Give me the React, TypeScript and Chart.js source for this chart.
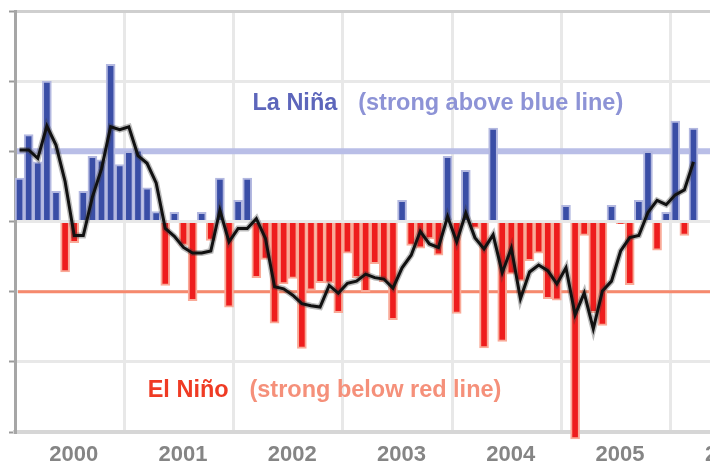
import React, { useEffect, useRef } from "react";
import { Chart, registerables } from "chart.js";

Chart.register(...registerables);

// Year tick labels (one per 12 months, centred in each year)
const years = ["2000", "2001", "2002", "2003", "2004", "2005", "2006"];

// Monthly index values, Jan 2000 .. Mar 2006
const soiMonthly = [
  0.62, 1.24, 0.85, 2.0, 0.43, -0.72, -0.3, 0.43, 0.93, 0.88, 2.24, 0.81,
  1.0, 1.02, 0.48, 0.14, -0.91, 0.13, -0.34, -1.13, 0.13, -0.27, 0.62, -1.22,
  0.3, 0.62, -0.8, -0.54, -1.45, -0.89, -0.81, -1.81, -0.98, -0.87, -0.88, -1.3,
  -0.45, -0.8, -1.0, -0.6, -0.86, -1.4, 0.3, -0.34, -0.38, -0.25, -0.48, 0.93,
  -1.31, 0.73, -0.1, -1.8, 1.33, -1.71, -0.75, -0.85, -0.56, -0.45, -1.1, -1.12,
  0.23, -3.1, -0.2, -1.3, -1.48, 0.23, -0.03, -0.9, 0.3, 1.0, -0.41, 0.13,
  1.43, -0.2, 1.33,
];

// Smoothed (black) line
const soiSmoothed = [
  1.02, 1.02, 0.9, 1.36, 1.09, 0.57, -0.2, -0.2, 0.35, 0.75, 1.35, 1.31,
  1.35, 0.94, 0.83, 0.55, -0.1, -0.21, -0.37, -0.45, -0.45, -0.42, 0.16, -0.29,
  -0.1, -0.1, 0.04, -0.24, -0.93, -0.96, -1.05, -1.17, -1.2, -1.22, -0.91, -1.02,
  -0.88, -0.85, -0.75, -0.8, -0.82, -0.95, -0.66, -0.48, -0.14, -0.32, -0.37, 0.07,
  -0.29, 0.12, -0.23, -0.39, -0.19, -0.73, -0.38, -1.1, -0.72, -0.62, -0.7, -0.89,
  -0.66, -1.33, -1.02, -1.53, -0.99, -0.85, -0.42, -0.23, -0.2, 0.13, 0.3, 0.24,
  0.38, 0.45, 0.85,
];

const strongLaNina = 1;
const strongElNino = -1;
const laNinaLabel = "La Niña";
const laNinaNote = "(strong above blue line)";
const elNinoLabel = "El Niño";
const elNinoNote = "(strong below red line)";

const FONT = '"Liberation Sans", Arial, sans-serif';

const refLinesPlugin = {
  id: "refLines",
  beforeDatasetsDraw(chart: any) {
    const { ctx, chartArea, scales } = chart;
    const y = scales.y;
    ctx.save();
    ctx.lineCap = "butt";
    ctx.strokeStyle = "#b9bee7";
    ctx.lineWidth = 6;
    const yb = y.getPixelForValue(strongLaNina);
    ctx.beginPath();
    ctx.moveTo(chartArea.left + 2, yb);
    ctx.lineTo(chartArea.right, yb);
    ctx.stroke();
    ctx.strokeStyle = "#f6896d";
    ctx.lineWidth = 3;
    const yr = y.getPixelForValue(strongElNino);
    ctx.beginPath();
    ctx.moveTo(chartArea.left + 3, yr);
    ctx.lineTo(chartArea.right, yr);
    ctx.stroke();
    ctx.restore();
  },
};

const textPlugin = {
  id: "notes",
  afterDatasetsDraw(chart: any) {
    const { ctx, scales } = chart;
    const x = scales.x;
    const y = scales.y;
    ctx.save();
    ctx.textBaseline = "alphabetic";
    ctx.textAlign = "left";
    ctx.font = `bold 23.5px ${FONT}`;
    ctx.fillStyle = "#5d66bb";
    ctx.fillText(laNinaLabel, x.getPixelForValue(26.07), y.getPixelForValue(1.59));
    ctx.fillStyle = "#8d93d6";
    ctx.fillText(laNinaNote, x.getPixelForValue(37.68), y.getPixelForValue(1.59));
    ctx.fillStyle = "#ef3b24";
    ctx.fillText(elNinoLabel, x.getPixelForValue(14.57), y.getPixelForValue(-2.5));
    ctx.fillStyle = "#f5907a";
    ctx.fillText(elNinoNote, x.getPixelForValue(25.74), y.getPixelForValue(-2.5));
    ctx.restore();
  },
};

export default function App() {
  const ref = useRef<HTMLCanvasElement | null>(null);

  useEffect(() => {
    if (!ref.current) return;
    const chart = new Chart(ref.current, {
      type: "bar",
      data: {
        datasets: [
          {
            type: "line",
            data: soiSmoothed.map((v, i) => ({ x: i + 0.5, y: v })),
            borderColor: "#111111",
            borderWidth: 3,
            pointRadius: 0,
            tension: 0,
            order: 1,
          } as any,
          {
            type: "line",
            data: soiSmoothed.map((v, i) => ({ x: i + 0.5, y: v })),
            borderColor: "rgba(60,60,60,0.35)",
            borderWidth: 6,
            pointRadius: 0,
            tension: 0,
            order: 2,
          } as any,
          {
            type: "bar",
            data: soiMonthly.map((v, i) => ({ x: i + 0.5, y: v })),
            backgroundColor: (c: any) => (c.raw && c.raw.y >= 0 ? "#3a4ea6" : "#ee1d1d"),
            borderColor: (c: any) => (c.raw && c.raw.y >= 0 ? "#b3b8e0" : "#f9aa98"),
            borderWidth: 2,
            borderSkipped: "start",
            barThickness: 9,
            grouped: false,
            clip: false,
            order: 3,
          } as any,
        ],
      },
      options: {
        responsive: false,
        animation: false,
        devicePixelRatio: 1,
        layout: { padding: { top: 11, right: 8, left: 0, bottom: 0 } },
        plugins: { legend: { display: false }, tooltip: { enabled: false } },
        scales: {
          x: {
            type: "linear",
            min: 0,
            max: 84,
            offset: false,
            afterBuildTicks: (s: any) => {
              s.ticks = Array.from({ length: 15 }, (_, i) => ({ value: i * 6 }));
            },
            afterFit: (s: any) => {
              s.height = 41;
            },
            ticks: {
              autoSkip: false,
              maxRotation: 0,
              minRotation: 0,
              labelOffset: 4,
              padding: 10,
              color: "#858585",
              font: { family: FONT, size: 22, weight: "bold" },
              callback: (v: any) => {
                const n = Math.round(Number(v));
                return n % 12 === 6 ? years[(n - 6) / 12] : "";
              },
            },
            grid: {
              offset: false,
              drawTicks: false,
              lineWidth: 3,
              color: (c: any) =>
                c.tick && Math.round(c.tick.value) % 12 === 0 ? "#e8e8e8" : "rgba(0,0,0,0)",
            },
            border: { display: true, color: "#d6d6d6", width: 4 },
          },
          y: {
            type: "linear",
            min: -3,
            max: 3,
            afterFit: (s: any) => {
              s.width = 15;
            },
            ticks: { stepSize: 1, display: false },
            grid: {
              lineWidth: 3,
              color: (c: any) => (c.tick && c.tick.value === 3 ? "#cfcfcf" : "#e8e8e8"),
              drawTicks: true,
              tickLength: 6,
              tickColor: "#9a9a9a",
              tickWidth: 2,
            },
            border: { display: true, color: "#a6a6a6", width: 3 },
          },
        },
      } as any,
      plugins: [refLinesPlugin, textPlugin],
    });
    return () => chart.destroy();
  }, []);

  return (
    <div
      style={{
        position: "fixed",
        left: 0,
        top: 0,
        width: 710,
        height: 473,
        overflow: "hidden",
        background: "#ffffff",
      }}
    >
      <canvas
        ref={ref}
        width={790}
        height={473}
        style={{ display: "block", width: 790, height: 473 }}
      />
    </div>
  );
}
